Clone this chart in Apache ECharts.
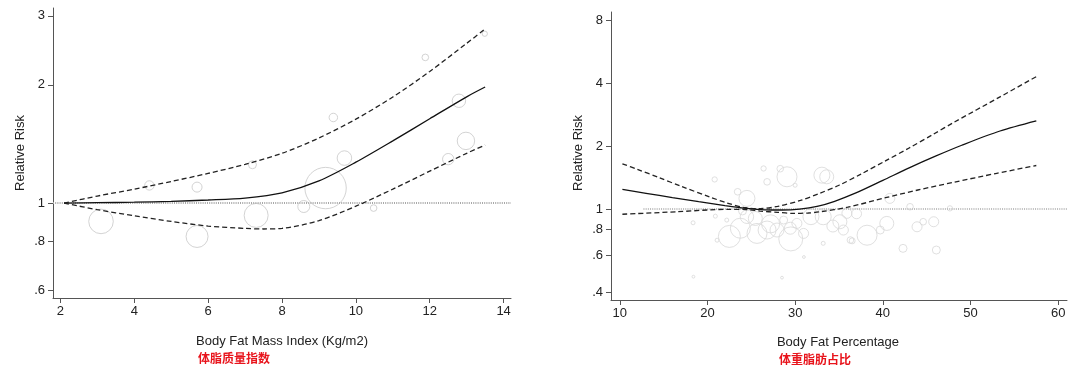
<!DOCTYPE html>
<html>
<head>
<meta charset="utf-8">
<script src="https://cdn.jsdelivr.net/npm/echarts@6/dist/echarts.min.js"></script>
<style>
html,body{margin:0;padding:0;background:#fff;}
#c{width:1080px;height:367px;}
</style>
</head>
<body>
<div id="c"></div>
<script>
// ---------- Left panel: Body Fat Mass Index ----------
const fmiX    = [2.1, 3, 4, 5, 6, 7, 8, 9, 10, 11, 12, 13, 13.5];
const fmiRR   = [1, 1.002, 1.005, 1.01, 1.018, 1.03, 1.062, 1.139, 1.271, 1.44, 1.64, 1.865, 1.975];
const fmiHiX  = [2.1, 3, 4, 5, 6, 7, 8, 9, 10, 11, 12, 13, 13.5];
const fmiHi   = [1, 1.042, 1.085, 1.135, 1.19, 1.255, 1.339, 1.465, 1.636, 1.863, 2.164, 2.552, 2.776];
const fmiLoX  = [2.1, 3, 4, 5, 6, 7, 7.5, 8, 9, 10, 11, 12, 13, 13.5];
const fmiLo   = [1, 0.962, 0.928, 0.898, 0.874, 0.862, 0.859, 0.862, 0.902, 0.982, 1.085, 1.206, 1.339, 1.405];
const fmiStudyX  = [3.1, 4.41, 5.7, 5.7, 7.2, 7.3, 8.59, 9.18, 9.69, 9.39, 10.48, 12.5, 12.98, 12.79, 11.88, 13.49];
const fmiStudyRR = [0.898, 1.109, 1.098, 0.822, 1.252, 0.93, 0.98, 1.092, 1.302, 1.652, 0.971, 1.294, 1.44, 1.822, 2.35, 2.70];
const fmiStudyW  = [151, 22, 25, 121, 16, 144, 36, 428, 53, 18, 11, 32, 76, 45, 11, 7];
const fmiXTicks = [2, 4, 6, 8, 10, 12, 14];
const fmiYTicks = [0.6, 0.8, 1, 2, 3];

// ---------- Right panel: Body Fat Percentage ----------
const bfpX    = [10.3, 13, 16, 19, 22, 24.5, 26.5, 28.5, 30.5, 32.5, 34.5, 37, 40, 43, 46, 49, 53.36, 57.5];
const bfpRR   = [1.242, 1.19, 1.135, 1.085, 1.04, 1.008, 0.992, 0.99, 1.0, 1.03, 1.09, 1.198, 1.372, 1.575, 1.791, 2.02, 2.363, 2.643];
const bfpHiX  = [10.3, 12, 14.5, 17, 20.3, 22.2, 24.1, 26, 28, 30.6, 32.8, 35, 37.5, 40.45, 43, 45.76, 48.04, 53.36, 57.5];
const bfpHi   = [1.647, 1.55, 1.413, 1.285, 1.141, 1.071, 1.018, 1.005, 1.03, 1.1, 1.19, 1.3, 1.47, 1.714, 1.96, 2.28, 2.59, 3.44, 4.3];
const bfpLoX  = [10.3, 16.5, 22.2, 24.5, 26, 28, 29.8, 31.5, 32.84, 36, 40.45, 44, 48.04, 53, 57.5];
const bfpLo   = [0.945, 0.971, 0.997, 0.995, 0.978, 0.965, 0.954, 0.958, 0.971, 1.021, 1.137, 1.234, 1.343, 1.483, 1.616];
const bfpStudyX  = [20.82, 23.44, 24.5, 23.75, 25.46, 26.8, 24.5, 25.65, 27.93, 28.69, 29.45, 30.2, 30.96, 33.05, 29.07, 26.8, 18.36, 20.9, 30.0, 26.4, 22.2, 33.2, 21.1,
                    35.1, 35.9, 35.5, 36.3, 36.5, 39.7, 40.45, 42.3, 43.9, 44.6, 45.8, 40.8, 33.6, 28.3, 33.2, 38.2, 43.1, 47.65, 46.1, 18.4, 31.0, 28.5,
                    22.5, 27.2, 31.8, 34.3, 37.0, 24.0, 29.5];
const bfpStudyRR = [1.386, 1.21, 1.125, 0.81, 0.902, 0.794, 0.919, 0.765, 0.794, 0.886, 0.81, 0.854, 0.765, 1.453, 1.427, 1.35, 0.86, 0.925, 1.30, 1.564, 0.886, 0.686, 0.71,
                    0.87, 0.954, 0.794, 0.711, 0.705, 0.794, 0.854, 0.649, 0.823, 0.87, 0.87, 1.125, 1.427, 1.56, 0.919, 0.75, 1.026, 1.008, 0.637, 0.475, 0.59, 0.47,
                    0.74, 0.85, 0.92, 0.83, 0.95, 0.98, 0.72];
const bfpStudyW  = [7, 11, 64, 100, 49, 81, 45, 100, 49, 16, 36, 25, 25, 64, 100, 11, 4, 4, 4, 7, 4, 4, 4,
                    49, 25, 25, 11, 9, 16, 49, 16, 25, 11, 25, 25, 49, 11, 64, 100, 11, 7, 16, 2, 2, 2,
                    121, 81, 64, 36, 25, 16, 144];
const bfpXTicks = [10, 20, 30, 40, 50, 60];
const bfpYTicks = [0.4, 0.6, 0.8, 1, 2, 4, 8];

// ---------- Build ----------
const zip = (xs, ys) => xs.map((x, i) => [x, ys[i]]);
const bubbles = (xs, ys, ws) => xs.map((x, i) => [x, ys[i], ws[i]]);
const FONT = 'Liberation Sans, Arial, Helvetica, sans-serif';
const fmtTick = v => {
  const s = String(+(+v).toFixed(2));
  return s.startsWith('0.') ? s.slice(1) : s;
};

function xAxisFor(gridIndex, min, max, ticks) {
  return {
    type: 'value', gridIndex, min, max,
    axisLine: { show: true, onZero: false, lineStyle: { color: '#555', width: 1 } },
    axisTick: { show: true, length: 5, lineStyle: { color: '#555' }, customValues: ticks },
    axisLabel: { color: '#222', fontSize: 13, fontFamily: FONT, margin: 7, customValues: ticks, formatter: fmtTick },
    splitLine: { show: false }
  };
}
function yAxisFor(gridIndex, min, max, ticks) {
  return {
    type: 'log', logBase: 10, gridIndex, min, max,
    axisLine: { show: true, onZero: false, lineStyle: { color: '#555', width: 1 } },
    axisTick: { show: true, length: 5, lineStyle: { color: '#555' }, customValues: ticks },
    axisLabel: { color: '#222', fontSize: 13, fontFamily: FONT, margin: 8, customValues: ticks, formatter: fmtTick },
    splitLine: { show: false },
    minorTick: { show: false }
  };
}
const solidStyle = { color: '#111', width: 1.3 };
const dashStyle = { color: '#222', width: 1.3, type: [5, 3] };
function curve(idx, data, style) {
  return {
    type: 'line', xAxisIndex: idx, yAxisIndex: idx, data, showSymbol: false, symbol: 'none',
    smooth: 0.3, lineStyle: style, silent: true, z: 5
  };
}
function scatter(idx, data, color, scale) {
  return {
    type: 'scatter', xAxisIndex: idx, yAxisIndex: idx, data, silent: true, z: 2,
    symbol: 'circle',
    symbolSize: d => 2 * Math.sqrt(d[2]) * scale,
    itemStyle: { color: 'rgba(255,255,255,0)', borderColor: color, borderWidth: 1 }
  };
}
const refLine = (data, color) => ({
  silent: true, symbol: 'none', label: { show: false },
  lineStyle: { color, width: 2, type: [1, 1.2] },
  data
});

const leftRef = scatter(0, bubbles(fmiStudyX, fmiStudyRR, fmiStudyW), '#c8c8c8', 1);
leftRef.markLine = refLine([{ yAxis: 1 }], '#a8a8a8');
const rightRef = scatter(1, bubbles(bfpStudyX, bfpStudyRR, bfpStudyW), '#d8d8d8', 1);
rightRef.markLine = refLine([[{ coord: [12.7, 1] }, { coord: [61, 1] }]], '#bdbdbd');

const option = {
  animation: false,
  backgroundColor: '#fff',
  grid: [
    { left: 53, top: 8, width: 458, height: 290 },
    { left: 611, top: 12, width: 456, height: 288 }
  ],
  xAxis: [xAxisFor(0, 1.8, 14.2, fmiXTicks), xAxisFor(1, 9, 61, bfpXTicks)],
  yAxis: [yAxisFor(0, 0.573, 3.14, fmiYTicks), yAxisFor(1, 0.3675, 8.76, bfpYTicks)],
  series: [
    leftRef,
    curve(0, zip(fmiX, fmiRR), solidStyle),
    curve(0, zip(fmiHiX, fmiHi), dashStyle),
    curve(0, zip(fmiLoX, fmiLo), dashStyle),
    rightRef,
    curve(1, zip(bfpX, bfpRR), solidStyle),
    curve(1, zip(bfpHiX, bfpHi), dashStyle),
    curve(1, zip(bfpLoX, bfpLo), dashStyle)
  ],
  graphic: [
    { type: 'text', x: 20, y: 153, rotation: Math.PI / 2, style: { text: 'Relative Risk', fontSize: 13, fontFamily: FONT, fill: '#222', align: 'center', verticalAlign: 'middle' } },
    { type: 'text', x: 282, y: 341, style: { text: 'Body Fat Mass Index (Kg/m2)', fontSize: 13, fontFamily: FONT, fill: '#222', align: 'center', verticalAlign: 'middle' } },
    { type: 'text', x: 234, y: 358, style: { text: '体脂质量指数', fontSize: 12, fontWeight: 'bold', fontFamily: 'Noto Sans CJK SC', fill: '#e8141c', align: 'center', verticalAlign: 'middle' } },
    { type: 'text', x: 578, y: 153, rotation: Math.PI / 2, style: { text: 'Relative Risk', fontSize: 13, fontFamily: FONT, fill: '#222', align: 'center', verticalAlign: 'middle' } },
    { type: 'text', x: 838, y: 342, style: { text: 'Body Fat Percentage', fontSize: 13, fontFamily: FONT, fill: '#222', align: 'center', verticalAlign: 'middle' } },
    { type: 'text', x: 815, y: 359, style: { text: '体重脂肪占比', fontSize: 12, fontWeight: 'bold', fontFamily: 'Noto Sans CJK SC', fill: '#e8141c', align: 'center', verticalAlign: 'middle' } }
  ]
};
const chart = echarts.init(document.getElementById('c'), null, { renderer: 'canvas' });
chart.setOption(option);
</script>
</body>
</html>
